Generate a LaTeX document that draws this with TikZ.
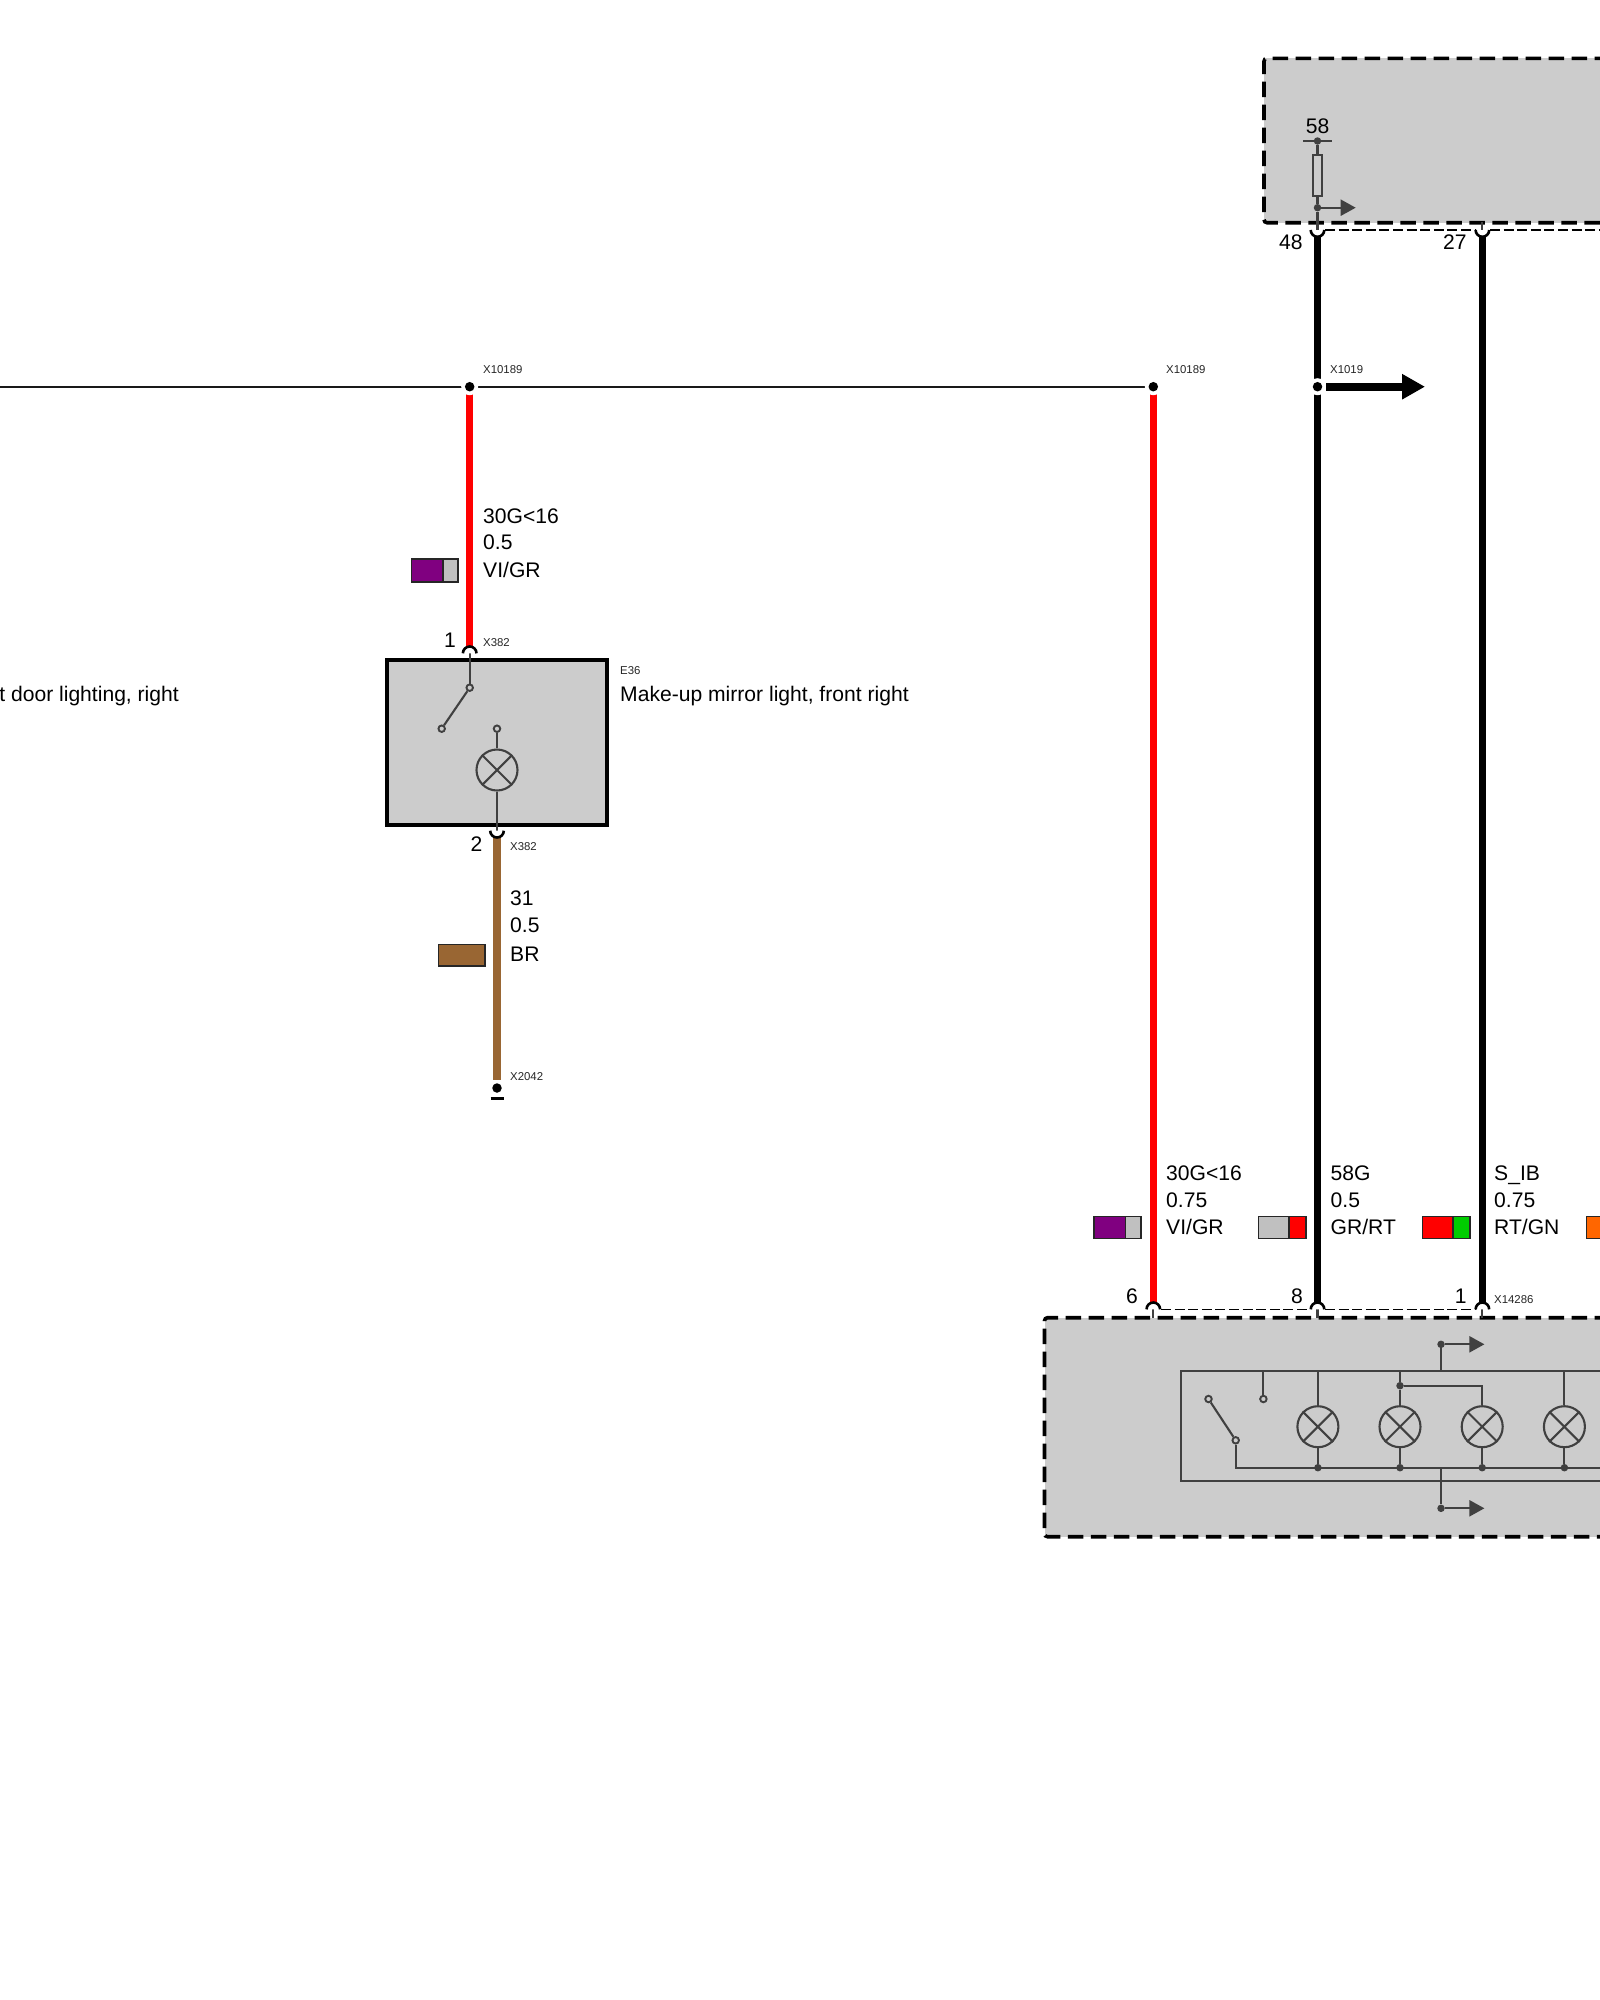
\documentclass[tikz,border=0pt]{standalone}
\usepackage{fontspec}
\setmainfont{Liberation Sans}
\usetikzlibrary{arrows.meta}
\definecolor{boxgrey}{HTML}{CCCCCC}
\definecolor{ink}{HTML}{404040}
\definecolor{wred}{HTML}{FF0000}
\definecolor{wbrown}{HTML}{996633}
\definecolor{wviolet}{HTML}{800080}
\definecolor{wgrey}{HTML}{C0C0C0}
\definecolor{wgreen}{HTML}{00CC00}
\definecolor{worange}{HTML}{FF6600}
\tikzset{
  big/.style={font=\fontsize{21.1}{25}\selectfont,inner sep=0pt,text height=15pt,text depth=0pt,text=black},
  tiny/.style={font=\fontsize{11.4}{13}\selectfont,inner sep=0pt,text height=8pt,text depth=0pt,text=black!85},
  wire/.style={line width=7.5pt},
  inner/.style={draw=ink,line width=2.1pt},
  ctrl/.style={draw=black,line width=3.6pt,dash pattern=on 15.5pt off 7.5pt},
  thindash/.style={draw=black,line width=1.6pt,dash pattern=on 10pt off 3.6pt},
  pt/.style={circle,fill=ink,inner sep=0pt,minimum size=7.5pt},
  jdot/.style={circle,fill=black,inner sep=0pt,minimum size=9.5pt},
  halo/.style={circle,fill=white,inner sep=0pt,minimum size=17pt},
  ring/.style={circle,draw=ink,fill=boxgrey,line width=1.9pt,inner sep=0pt,minimum size=6.5pt},
  lampshape/.style={circle,draw=ink,line width=2.1pt,inner sep=0pt,minimum size=41pt},
  sigarrow/.style={inner,-{Triangle[length=15pt,width=16pt]}},
}
\newcommand{\cupdown}[2]{\filldraw[fill=white,draw=black,line width=2.6pt] (#1,#2) ++(-6.8pt,0pt) arc (180:360:6.8pt);}
\newcommand{\cupup}[2]{\filldraw[fill=white,draw=black,line width=2.6pt] (#1,#2) ++(-6.8pt,0pt) arc (180:0:6.8pt);}
\newcommand{\swatch}[7]{%
  \filldraw[fill=#6,draw=black!85,line width=1.8pt] (#1,#4) rectangle (#3,#5);
  \filldraw[fill=#7,draw=black!85,line width=1.8pt] (#3,#4) rectangle (#2,#5);}
\newcommand{\lamp}[3]{%
  \node[lampshape] (#1) at (#2,#3) {};
  \draw[inner] (#1.45) -- (#1.225) (#1.135) -- (#1.315);}
\begin{document}
\begin{tikzpicture}[x=1pt,y=-1pt]
\useasboundingbox (0,0) rectangle (1600,2000);
\clip (0,0) rectangle (1600,2000);
% ---- top control unit
\fill[boxgrey] (1264,58.3) rectangle (1610,222.7);
\draw[ctrl,rounded corners=3pt] (1610,58.3) -- (1264,58.3) -- (1264,222.7) -- (1610,222.7);
\draw[thindash] (1325,230) -- (1476,230) (1490,230) -- (1610,230);
\coordinate (p48) at (1317.5,230);
\coordinate (p27) at (1482.4,230);
\coordinate (barL) at (1303,141);
\coordinate (barR) at (1332,141);
\node[pt] (f58) at (1317.5,141) {};
\node[draw=ink,line width=2.1pt,fill=boxgrey,inner sep=0pt,minimum width=9.5pt,minimum height=41pt] (fuse) at (1317.5,175.5) {};
\node[pt] (tap) at (1317.5,207.7) {};
\coordinate (tapEnd) at (1355.7,207.7);
\draw[inner] (barL) -- (barR);
\draw[inner] (f58) -- (fuse.north);
\draw[inner] (fuse.south) -- (tap);
\draw[inner] (tap) -- (p48);
\draw[sigarrow] (tap) -- (tapEnd);
\draw[inner] (p27) -- (1482.4,222);
\node[big,anchor=center] (t58) at (1317.5,126) {58};
\node[big,anchor=east] (t48) at (1302.7,241.7) {48};
\node[big,anchor=east] (t27) at (1466.7,241.7) {27};
% ---- bus line
\coordinate (busL) at (0,386.7);
\coordinate (j1) at (469.7,386.7);
\coordinate (j2) at (1153.3,386.7);
\coordinate (j3) at (1317.5,386.7);
\coordinate (j3End) at (1425,386.7);
\draw[line width=2pt,black!90] (busL) -- (j1) -- (j2);
% ---- wires
\coordinate (w1b) at (469.7,650);
\coordinate (w2t) at (497,835);
\coordinate (w2b) at (497,1080);
\coordinate (w3b) at (1153.3,1305);
\coordinate (w4b) at (1317.5,1305);
\coordinate (w5b) at (1482.4,1305);
\draw[wire,wred] (j1) -- (w1b);
\draw[wire,wbrown] (w2t) -- (w2b);
\draw[wire,wred] (j2) -- (w3b);
\draw[wire,black] (p48) -- (w4b);
\draw[wire,black] (p27) -- (w5b);
\node[halo] at (j1) {};
\node[halo] at (j2) {};
\node[halo] at (j3) {};
\node[jdot] (d1) at (j1) {};
\node[jdot] (d2) at (j2) {};
\node[jdot] (d3) at (j3) {};
\draw[line width=8pt,black,-{Triangle[length=23pt,width=24pt]}] (1326,386.7) -- (j3End);
\cupdown{1317.5}{230}
\cupdown{1482.4}{230}
\node[tiny,anchor=west] (xa) at (483,369) {X10189};
\node[tiny,anchor=west] (xb) at (1166,369) {X10189};
\node[tiny,anchor=west] (xc) at (1330,369) {X1019};
% ---- E36
\node[draw=black,line width=4pt,fill=boxgrey,inner sep=0pt,minimum width=219.4pt,minimum height=165pt] (e36) at (497,742.5) {};
\coordinate (pin1) at (469.7,653.3);
\coordinate (pin2) at (497,830.7);
\node[ring] (s1) at (469.7,687.7) {};
\node[ring] (s2) at (441.7,728.7) {};
\node[ring] (s3) at (497,728.7) {};
\lamp{L0}{497}{770}
\draw[inner] (pin1) -- (s1);
\draw[inner] (s1) -- (s2);
\draw[inner] (s3) -- (L0);
\draw[inner] (L0) -- (pin2);
\cupup{469.7}{653.3}
\cupdown{497}{830.7}
\node[big,anchor=east] (n1) at (456,640) {1};
\node[tiny,anchor=west] (x382a) at (483,642.7) {X382};
\node[tiny,anchor=west] (e36t) at (620,670) {E36};
\node[big,anchor=west] (e36n) at (620,694) {Make-up mirror light, front right};
\node[big,anchor=east] (door) at (179,694) {t door lighting, right};
\node[big,anchor=east] (n2) at (482.5,844.3) {2};
\node[tiny,anchor=west] (x382b) at (510,846.7) {X382};
\node[big,anchor=west] (a1) at (483,515.7) {30G<16};
\node[big,anchor=west] (a2) at (483,542.3) {0.5};
\node[big,anchor=west] (a3) at (483,570) {VI/GR};
\swatch{411.5}{458.3}{442.7}{559}{581.7}{wviolet}{wgrey}
\node[big,anchor=west] (b1) at (510,898.3) {31};
\node[big,anchor=west] (b2) at (510,925) {0.5};
\node[big,anchor=west] (b3) at (510,954.3) {BR};
\filldraw[fill=wbrown,draw=black!85,line width=1.8pt] (438.5,944.5) rectangle (484.7,965.7);
\node[tiny,anchor=west] (x2042) at (510,1076.7) {X2042};
\node[jdot] (g) at (497,1088) {};
\draw[black,line width=3pt] (490.5,1098) -- (503.5,1098);
% ---- bottom control unit
\fill[boxgrey] (1044.5,1317.7) rectangle (1610,1536.7);
\draw[ctrl,rounded corners=3pt] (1610,1317.7) -- (1044.5,1317.7) -- (1044.5,1536.7) -- (1610,1536.7);
\draw[thindash] (1161,1309.3) -- (1310,1309.3) (1325,1309.3) -- (1475,1309.3);
\coordinate (q6) at (1153.3,1309.3);
\coordinate (q8) at (1317.5,1309.3);
\coordinate (q1) at (1482.4,1309.3);
\draw[inner] (q6) -- (1153.3,1318);
\draw[inner] (q8) -- (1317.5,1318);
\draw[inner] (q1) -- (1482.4,1318);
\cupup{1153.3}{1309.3}
\cupup{1317.5}{1309.3}
\cupup{1482.4}{1309.3}
\node[big,anchor=east] (n6) at (1138,1296) {6};
\node[big,anchor=east] (n8) at (1303,1296) {8};
\node[big,anchor=east] (n11) at (1466.7,1296) {1};
\node[tiny,anchor=west] (x14286) at (1494,1299) {X14286};
\node[big,anchor=west] (c1) at (1166,1173.3) {30G<16};
\node[big,anchor=west] (c2) at (1166,1200) {0.75};
\node[big,anchor=west] (c3) at (1166,1227.3) {VI/GR};
\node[big,anchor=west] (d1t) at (1330.5,1173.3) {58G};
\node[big,anchor=west] (d2t) at (1330.5,1200) {0.5};
\node[big,anchor=west] (d3t) at (1330.5,1227.3) {GR/RT};
\node[big,anchor=west] (e1t) at (1494,1173.3) {S\_IB};
\node[big,anchor=west] (e2t) at (1494,1200) {0.75};
\node[big,anchor=west] (e3t) at (1494,1227.3) {RT/GN};
\swatch{1094}{1141}{1125.4}{1216.5}{1238.5}{wviolet}{wgrey}
\swatch{1258.5}{1306}{1289.3}{1216.5}{1238.5}{wgrey}{wred}
\swatch{1422.5}{1470}{1453}{1216.5}{1238.5}{wred}{wgreen}
\filldraw[fill=worange,draw=black!85,line width=1.8pt] (1586.5,1216.5) rectangle (1612,1238.5);
% ---- inner unit
\draw[inner] (1610,1371) -- (1181.2,1371) -- (1181.2,1481.3) -- (1610,1481.3);
\coordinate (railY) at (1235.7,1467.7);
\coordinate (railEnd) at (1610,1467.7);
\node[ring] (r1) at (1263.4,1399) {};
\node[ring] (r2) at (1208.5,1399) {};
\node[ring] (r3) at (1235.7,1440.3) {};
\draw[inner] (1263.4,1371) -- (r1);
\draw[inner] (r2) -- (r3);
\draw[inner] (r3) -- (railY) -- (railEnd);
\lamp{L1}{1317.9}{1426.7}
\lamp{L2}{1400}{1426.7}
\lamp{L3}{1482.2}{1426.7}
\lamp{L4}{1564.4}{1426.7}
\node[pt] (g1) at (1317.9,1467.7) {};
\node[pt] (g2) at (1400,1467.7) {};
\node[pt] (g3) at (1482.2,1467.7) {};
\node[pt] (g4) at (1564.4,1467.7) {};
\node[pt] (h2) at (1400,1385.7) {};
\draw[inner] (1317.9,1371) -- (L1) (L1) -- (g1);
\draw[inner] (1400,1371) -- (h2) (h2) -- (L2) (L2) -- (g2);
\draw[inner] (h2) -- (1482.2,1385.7) -- (L3) (L3) -- (g3);
\draw[inner] (1564.4,1371) -- (L4) (L4) -- (g4);
\node[pt] (up) at (1441,1344.3) {};
\node[pt] (dn) at (1441,1508.3) {};
\coordinate (upE) at (1484.4,1344.3);
\coordinate (dnE) at (1484.4,1508.3);
\draw[inner] (1441,1371) -- (up);
\draw[inner] (1441,1467.7) -- (dn);
\draw[sigarrow] (up) -- (upE);
\draw[sigarrow] (dn) -- (dnE);
\end{tikzpicture}
\end{document}
